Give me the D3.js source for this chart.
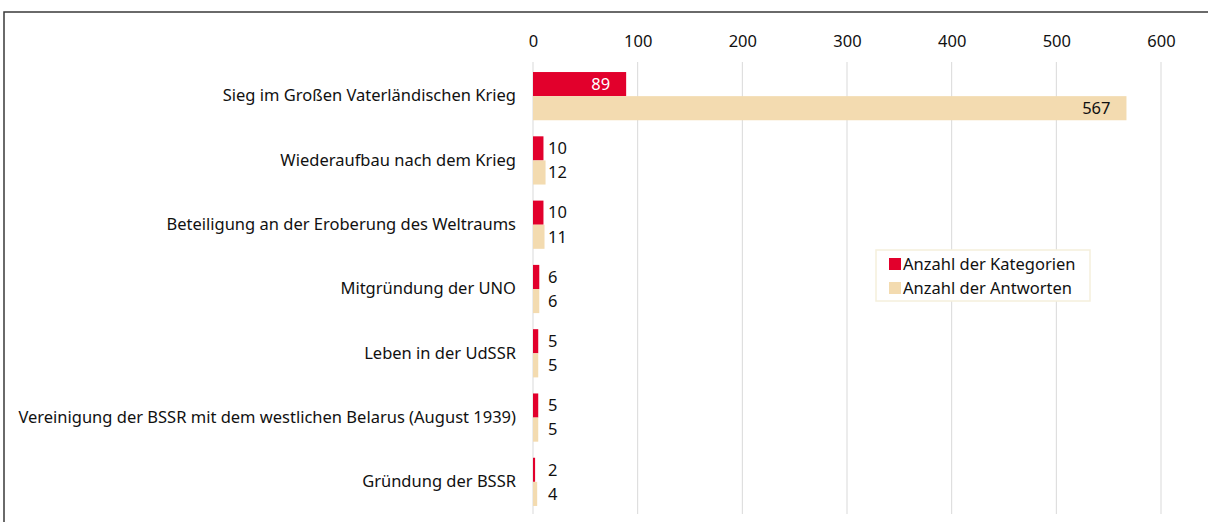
<!DOCTYPE html>
<html>
<head>
<meta charset="utf-8">
<script src="https://cdn.jsdelivr.net/npm/d3@7"></script>
<style>
  body { margin: 0; background: #fff; }
  svg text { font-family: "Noto Sans", "Open Sans", sans-serif; }
</style>
</head>
<body>
<svg width="1208" height="522"></svg>
<script>
var categories = [
  "Sieg im Großen Vaterländischen Krieg",
  "Wiederaufbau nach dem Krieg",
  "Beteiligung an der Eroberung des Weltraums",
  "Mitgründung der UNO",
  "Leben in der UdSSR",
  "Vereinigung der BSSR mit dem westlichen Belarus (August 1939)",
  "Gründung der BSSR"
];
var kategorien = [89, 10, 10, 6, 5, 5, 2];
var antworten = [567, 12, 11, 6, 5, 5, 4];
var seriesNames = ["Anzahl der Kategorien", "Anzahl der Antworten"];
var tickValues = [0, 100, 200, 300, 400, 500, 600];

var colors = ["#e2002c", "#f3dbb0"];
var fontSize = "16.5px";
var svg = d3.select("svg");

// frame (top + left edge of the original box)
svg.append("path")
  .attr("d", "M4,522 V12 H1208")
  .style("fill", "none")
  .style("stroke", "#3a3a3a")
  .style("stroke-width", 1.5);

var x = d3.scaleLinear().domain([0, 600]).range([533, 1161]);
var y = d3.scaleBand().domain(categories).range([64, 514]).paddingInner(0.25).paddingOuter(0.125);
var sub = d3.scaleBand().domain([0, 1]).range([0, y.bandwidth()]);

// gridlines
svg.append("g").selectAll("line.grid")
  .data(tickValues)
  .enter()
  .append("line")
  .attr("class", "grid")
  .attr("x1", function(d) { return x(d); })
  .attr("x2", function(d) { return x(d); })
  .attr("y1", 62)
  .attr("y2", 514)
  .style("stroke", "#d9d9d9")
  .style("stroke-width", 1);

// top axis labels
var xAxis = d3.axisTop(x).tickValues(tickValues).tickSize(0).tickPadding(0);
var gX = svg.append("g").attr("transform", "translate(0,47)").call(xAxis);
gX.select(".domain").remove();
gX.selectAll("text")
  .style("font-family", "\"Noto Sans\", sans-serif")
  .style("font-size", fontSize)
  .style("fill", "#111");

// category labels
var yAxis = d3.axisLeft(y).tickSize(0).tickPadding(0);
var gY = svg.append("g").attr("transform", "translate(516,0)").call(yAxis);
gY.select(".domain").remove();
gY.selectAll("text")
  .style("font-family", "\"Noto Sans\", sans-serif")
  .style("font-size", fontSize)
  .style("fill", "#111");

var rows = categories.map(function(c, i) {
  return {cat: c, vals: [kategorien[i], antworten[i]]};
});

var groups = svg.append("g").selectAll("g.row")
  .data(rows)
  .enter()
  .append("g")
  .attr("class", "row")
  .attr("transform", function(d) { return "translate(0," + y(d.cat) + ")"; });

groups.selectAll("rect")
  .data(function(d) { return d.vals; })
  .enter()
  .append("rect")
  .attr("x", x(0))
  .attr("y", function(d, i) { return sub(i); })
  .attr("width", function(d) { return x(d) - x(0); })
  .attr("height", sub.bandwidth())
  .style("fill", function(d, i) { return colors[i]; });

// big values sit inside the bar end, small ones in a column just right of zero
groups.selectAll("text.val")
  .data(function(d) { return d.vals; })
  .enter()
  .append("text")
  .attr("class", "val")
  .attr("y", function(d, i) { return sub(i) + sub.bandwidth() / 2; })
  .attr("dy", "0.35em")
  .attr("x", function(d) { return d > 50 ? x(d) - 16 : x(0) + 15; })
  .attr("text-anchor", function(d) { return d > 50 ? "end" : "start"; })
  .style("font-size", fontSize)
  .style("fill", function(d, i) { return (d > 50 && i == 0) ? "#fff" : "#111"; })
  .text(function(d) { return d; });

// legend
var legend = svg.append("g").attr("transform", "translate(876,250)");
legend.append("rect")
  .attr("width", 214)
  .attr("height", 51)
  .style("fill", "#fff")
  .style("stroke", "#f5efdc")
  .style("stroke-width", 1.5);

var items = legend.selectAll("g.item")
  .data(seriesNames)
  .enter()
  .append("g")
  .attr("class", "item")
  .attr("transform", function(d, i) { return "translate(13," + (8 + i * 24) + ")"; });

items.append("rect")
  .attr("width", 12)
  .attr("height", 12)
  .style("fill", function(d, i) { return colors[i]; });

items.append("text")
  .attr("x", 14)
  .attr("y", 6)
  .attr("dy", "0.35em")
  .style("font-size", fontSize)
  .style("fill", "#111")
  .text(function(d) { return d; });
</script>
</body>
</html>
